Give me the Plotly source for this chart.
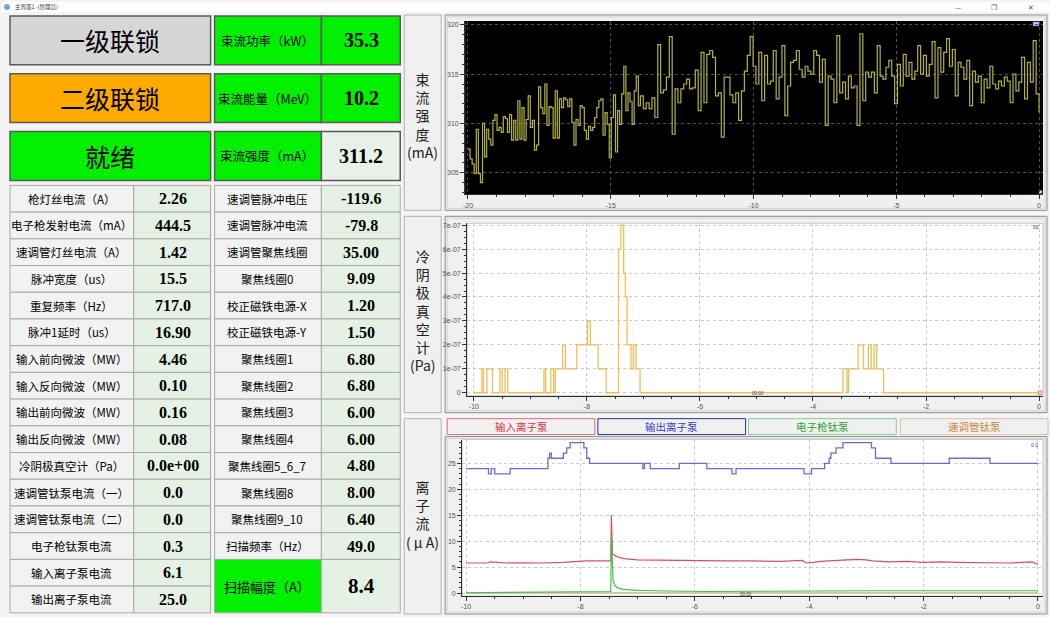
import numpy as np
import plotly.graph_objects as go

W, H = 1050, 617
CJK = "Noto Sans CJK SC"
SERIF = "Liberation Serif"

# ---------------- data ----------------
status_names = ["一级联锁", "二级联锁", "就绪"]
beam_names = ["束流功率（kW）", "束流能量（MeV）", "束流强度（mA）"]
beam_values = ["35.3", "10.2", "311.2"]

left_names = ["枪灯丝电流（A）", "电子枪发射电流（mA）", "速调管灯丝电流（A）", "脉冲宽度（us）",
              "重复频率（Hz）", "脉冲1延时（us）", "输入前向微波（MW）", "输入反向微波（MW）",
              "输出前向微波（MW）", "输出反向微波（MW）", "冷阴极真空计（Pa）", "速调管钛泵电流（一）",
              "速调管钛泵电流（二）", "电子枪钛泵电流", "输入离子泵电流", "输出离子泵电流"]
left_values = ["2.26", "444.5", "1.42", "15.5", "717.0", "16.90", "4.46", "0.10",
               "0.16", "0.08", "0.0e+00", "0.0", "0.0", "0.3", "6.1", "25.0"]
right_names = ["速调管脉冲电压", "速调管脉冲电流", "速调管聚焦线圈", "聚焦线圈0", "校正磁铁电源-X",
               "校正磁铁电源-Y", "聚焦线圈1", "聚焦线圈2", "聚焦线圈3", "聚焦线圈4", "聚焦线圈5_6_7",
               "聚焦线圈8", "聚焦线圈9_10", "扫描频率（Hz）", "扫描幅度（A）"]
right_values = ["-119.6", "-79.8", "35.00", "9.09", "1.20", "1.50", "6.80", "6.80",
                "6.00", "6.00", "4.80", "8.00", "6.40", "49.0", "8.4"]

panel_titles = ["束<br>流<br>强<br>度<br>(mA)", "冷<br>阴<br>极<br>真<br>空<br>计<br>(Pa)",
                "离<br>子<br>流<br>( μ A)"]
pump_names = ["输入离子泵", "输出离子泵", "电子枪钛泵", "速调管钛泵"]

# beam current (mA), last 20 s
beam_a = [307.4, 306.4, 305.9, 304.9, 309.4, 304.9, 304.0, 310.0, 306.6, 309.4, 308.4, 307.8,
          310.3, 310.9, 309.3, 309.6, 309.1, 310.7, 310.5, 309.1, 310.9, 308.3, 310.3, 308.3,
          312.3, 308.4, 311.6, 308.3, 310.4, 312.8, 309.6, 310.3, 307.3, 307.8, 313.7, 311.6,
          311.0, 314.0, 309.8, 311.7, 311.6, 308.5, 313.3, 308.5, 312.5, 311.6, 312.6, 312.4,
          311.7, 312.5, 310.1, 307.8, 310.4, 309.8, 311.8, 311.6, 309.3, 308.4, 309.7, 309.3,
          309.6, 310.6, 311.6, 312.3, 312.5, 308.8, 311.1, 309.9, 306.5, 310.6, 312.9, 307.1,
          311.3, 309.9, 313.0, 315.8, 311.3, 313.1, 312.2, 309.9, 313.3, 314.8, 311.8]
beam_b = [312.8, 311.5, 312.1, 311.5, 312.6, 310.6, 318.0, 313.1, 313.4, 314.7, 318.8, 308.9,
          313.5, 312.1, 313.5, 314.0, 314.5, 313.5, 313.6, 315.4, 311.3, 317.2, 312.1, 317.0,
          317.4, 316.7, 312.8, 313.1, 308.6, 314.7, 314.7, 312.9, 312.1, 313.1, 310.3, 313.3,
          315.3, 316.9, 318.8, 315.8, 314.0, 317.2, 312.3, 316.9, 314.0, 314.3, 317.4, 312.5,
          314.7, 317.9, 310.8, 313.8, 316.2, 316.4, 317.4, 315.5, 314.7, 315.8, 315.3, 315.0,
          317.4, 316.9, 314.2, 316.5, 309.8, 314.8, 314.5, 312.1, 318.9, 313.1, 314.2, 312.5,
          314.8, 313.6, 313.8, 309.8, 319.1, 312.3, 315.2, 314.7, 315.2, 313.1, 317.9, 314.8,
          314.5, 315.7, 316.4, 314.8, 312.0, 316.0, 313.8, 317.0, 314.8, 316.2, 314.5, 315.3,
          317.9, 315.0, 316.9, 314.8, 316.0, 318.3, 312.6, 317.7, 315.2, 317.2, 318.6, 315.8,
          317.5, 312.8, 316.2, 315.7, 314.5, 316.4, 311.8, 315.3, 314.2, 314.8, 312.1, 314.5,
          313.6, 315.8, 314.0, 313.5, 314.3, 313.8, 314.7, 314.3, 312.1, 315.0, 313.3, 314.2,
          316.7, 312.5, 316.2, 314.2, 318.4, 313.0, 311.1]
beam_t = np.concatenate([np.linspace(-20, -13.96, len(beam_a), endpoint=False),
                         np.linspace(-13.96, 0, len(beam_b))])
beam_v = beam_a + beam_b

# cold cathode vacuum gauge (Pa), change points, last 10 s
vac_t = [-10.0, -9.86, -9.83, -9.77, -9.67, -9.54, -9.50, -9.45, -9.40, -8.76, -8.73, -8.64,
         -8.59, -8.56, -8.43, -8.38, -8.18, -7.99, -7.94, -7.80, -7.66, -7.44, -7.40, -7.35,
         -7.32, -7.29, -7.22, -7.18, -7.13, -7.06, -3.47, -3.40, -3.37, -3.20, -3.11, -3.02,
         -2.97, -2.92, -2.87, -2.75, 0.0]
vac_e7 = [0, 1, 0, 1, 0, 1, 0, 1, 0, 1, 0, 1, 0, 1, 2, 1, 2, 3, 2, 1, 0, 6, 7, 5, 4, 2, 1,
          2, 1, 0, 1, 0, 1, 2, 1, 2, 1, 2, 1, 0, 0]

# ion pump currents (uA), last 10 s
out_t = [-10.0, -9.61, -9.56, -9.50, -9.23, -8.57, -8.54, -8.51, -8.30, -8.24, -8.18, -7.94,
         -7.89, -7.84, -6.91, -6.88, -6.78, -6.27, -5.79, -5.35, -5.28, -4.09, -3.96, -3.73,
         -3.65, -3.62, -3.53, -3.41, -2.91, -2.84, -2.57, -1.55, -0.84, 0.0]
out_v = [24, 23, 24, 23, 24, 26, 27, 26, 27, 28, 29, 28, 26, 25, 24, 25, 24, 25, 24, 23, 24,
         23, 24, 25, 26, 27, 28, 29, 28, 26, 25, 26, 25, 25]
in_t = [-10.0, -9.62, -9.57, -9.30, -9.0, -8.7, -8.3, -8.1, -7.9, -7.47, -7.46, -7.44, -7.38,
        -7.3, -7.2, -7.0, -6.5, -6.0, -5.5, -5.0, -4.5, -4.12, -4.05, -3.93, -3.8, -3.5,
        -3.15, -3.0, -2.9, -2.6, -2.3, -2.0, -1.7, -1.4, -1.0, -0.5, -0.1, 0.0]
in_v = [5.8, 5.8, 6.0, 5.8, 5.85, 5.8, 5.9, 6.1, 6.2, 6.2, 15.0, 7.6, 7.1, 6.8, 6.6, 6.4, 6.3,
        6.3, 6.2, 6.2, 6.1, 6.3, 5.8, 5.9, 6.1, 6.3, 6.5, 6.4, 6.2, 6.0, 6.1, 5.9, 6.0, 5.9,
        5.9, 5.8, 6.0, 5.5]
gun_t = [-10.0, -8.6, -7.9, -7.47, -7.46, -7.43, -7.40, -7.35, -7.25, -7.0, -6.5, -5.8, -2.9, 0.0]
gun_v = [0.05, 0.15, 0.3, 0.3, 11.0, 2.5, 1.5, 1.0, 0.7, 0.5, 0.4, 0.3, 0.45, 0.45]
kly_t = [-10.0, 0.0]
kly_v = [0.0, 0.0]

beam_xticks = [-20, -15, -10, -5, 0]
beam_yticks = [305, 310, 315, 320]
t10_ticks = [-10, -8, -6, -4, -2, 0]
vac_ticks = [0, 1e-7, 2e-7, 3e-7, 4e-7, 5e-7, 6e-7, 7e-7]
vac_ticktext = ["0", "1e-07", "2e-07", "3e-07", "4e-07", "5e-07", "6e-07", "7e-07"]
ion_ticks = [0, 5, 10, 15, 20, 25]

# ---------------- helpers ----------------
shapes, annotations = [], []


def prect(x0, y0, x1, y1, fill, line="#a8a8a8", lw=1):
    shapes.append(dict(type="rect", xref="paper", yref="paper",
                       x0=x0 / W, x1=x1 / W, y0=1 - y1 / H, y1=1 - y0 / H,
                       fillcolor=fill, line=dict(color=line, width=lw), layer="below"))


def ptext(x, y, s, size, color="#000000", family=CJK, weight="normal", xanchor="center"):
    annotations.append(dict(x=x / W, y=1 - y / H, xref="paper", yref="paper", text=s,
                            showarrow=False, xanchor=xanchor, yanchor="middle",
                            font=dict(size=size, color=color, family=family, weight=weight)))


def tl(v):
    return [str(x) for x in v]


def axis(domain, rng, tickvals, ticktext, minor_dtick, gridcolor, anchor):
    return dict(domain=domain, range=rng, anchor=anchor, tickmode="array",
                tickvals=tickvals, ticktext=ticktext, showline=True, linecolor="#303030",
                linewidth=1, ticks="outside", ticklen=4, tickcolor="#303030",
                tickfont=dict(size=7, color="#505050", family="Liberation Sans"),
                showgrid=True, gridcolor=gridcolor, griddash="dot", gridwidth=1,
                zeroline=False, fixedrange=True,
                minor=dict(tickmode="linear", tick0=0, dtick=minor_dtick, ticks="outside",
                           ticklen=2, tickcolor="#303030", showgrid=False))


# ---------------- window chrome ----------------
prect(0, 0, W, 10, "#ffffff", line="#ffffff", lw=0)
shapes.append(dict(type="circle", xref="paper", yref="paper", x0=2 / W, x1=8 / W,
                   y0=1 - 8 / H, y1=1 - 2 / H, fillcolor="#6fa8dc", line=dict(width=0)))
ptext(11, 5, "主界面1 -(管理员)", 5.5, color="#333333", xanchor="left")
ptext(958, 5, "—", 7, color="#555555")
ptext(994, 5, "❐", 7, color="#555555")
ptext(1031, 5, "✕", 7, color="#555555")

# ---------------- left status / beam boxes ----------------
status_fill = ["#d6d6d6", "#ffaa00", "#00f000"]
beam_fill = ["#00f000", "#00f000", "#e9f0e9"]
box_y = [(14, 63), (72, 121), (130, 179)]
for i, (y0, y1) in enumerate(box_y):
    prect(8, y0, 209, y1, status_fill[i], line="#5a5a5a", lw=1.5)
    prect(213, y0, 320, y1, "#00f000", line="#5a5a5a", lw=1.5)
    prect(320, y0, 399, y1, beam_fill[i], line="#5a5a5a", lw=1.5)
    ym = (y0 + y1) / 2
    ptext(108, ym, status_names[i], 25)
    ptext(266, ym, beam_names[i], 12.5)
    ptext(360, ym, beam_values[i], 20, family=SERIF, weight="bold")

# ---------------- parameter table ----------------
row0, rh = 184, 26.8
for i in range(len(left_names)):
    y0 = row0 + i * rh
    y1 = y0 + rh
    ym = (y0 + y1) / 2
    prect(8, y0, 132, y1, "#f2f2f2")
    prect(132, y0, 209, y1, "#e6f1e6")
    ptext(70, ym, left_names[i], 11.5)
    ptext(171, ym, left_values[i], 16, family=SERIF, weight="bold")

for i in range(len(right_names)):
    y0 = row0 + i * rh
    last = i == len(right_names) - 1
    y1 = y0 + rh * (2 if last else 1)
    ym = (y0 + y1) / 2
    prect(213, y0, 320, y1, "#00f000" if last else "#f2f2f2")
    prect(320, y0, 399, y1, "#e6f1e6")
    ptext(266, ym, right_names[i], 13 if last else 11.5)
    ptext(360, ym, right_values[i], 21 if last else 16, family=SERIF, weight="bold")

# ---------------- vertical title panels ----------------
panels = [(13, 209), (215, 412), (418, 614)]
title_y = [114, 310, 514]
for (y0, y1), ty, title in zip(panels, title_y, panel_titles):
    prect(403, y0, 440, y1, "#f0f0f0", line="#b0b0b0")
    ptext(421.5, ty, title, 14, color="#202020")

# ---------------- chart frames ----------------
for (y0, y1) in [(13, 209), (215, 412), (436, 614)]:
    prect(444, y0, 1047, y1, "#f0f0f0", line="#8c8c8c")
    prect(446, y0 + 2, 1045, y1 - 2, "#f0f0f0", line="#d4d4d4")
prect(464, 19, 1043, 193, "#000000", line="#000000", lw=0)
prect(466, 222, 1043, 395, "#ffffff", line="#c8c8c8")
prect(461, 439, 1043, 596, "#ffffff", line="#c8c8c8")

# pump legend buttons
pump_line = ["#e06a78", "#2e2e8a", "#8cc88c", "#d9c3a3"]
pump_text = ["#e0303c", "#3a3ad0", "#30a030", "#c8883c"]
btn_x = [(446, 594), (597, 745), (748, 896), (900, 1048)]
for (x0, x1), name, lc, tc in zip(btn_x, pump_names, pump_line, pump_text):
    prect(x0, 418, x1, 434, "#f0f0f0", line=lc)
    ptext((x0 + x1) / 2, 426, name, 10.5, color=tc)

# tiny chart widgets
prect(1033, 20, 1039, 24, "#c8c8ff", line="#6060c0", lw=0.5)
prect(1039, 189, 1042, 192, "#ffc0c0", line="#c06060", lw=0.5)
ptext(1036, 226, "00", 5, color="#3030a0", family="Liberation Sans")
prect(1038, 390, 1042, 394, "#ffc0c0", line="#c06060", lw=0.5)
ptext(757, 393, "00.00", 4.5, color="#404040", family="Liberation Sans")
ptext(1034, 444, "0 0", 5, color="#3030a0", family="Liberation Sans")
ptext(745, 594, "00.00", 4.5, color="#404040", family="Liberation Sans")

# ---------------- traces ----------------
fig = go.Figure()
fig.add_trace(go.Scatter(x=beam_t, y=beam_v, mode="lines", xaxis="x", yaxis="y",
                         line=dict(color="#b2b244", width=1.2, shape="hv"),
                         hoverinfo="skip", showlegend=False))
fig.add_trace(go.Scatter(x=vac_t, y=np.array(vac_e7) * 1e-7, mode="lines", xaxis="x2",
                         yaxis="y2", line=dict(color="#ecbe5c", width=1.3, shape="hv"),
                         hoverinfo="skip", showlegend=False))
fig.add_trace(go.Scatter(x=kly_t, y=kly_v, mode="lines", xaxis="x3", yaxis="y3",
                         line=dict(color="#d9c8a8", width=2), hoverinfo="skip", showlegend=False))
fig.add_trace(go.Scatter(x=out_t, y=out_v, mode="lines", xaxis="x3", yaxis="y3",
                         line=dict(color="#6c6cd0", width=1.3, shape="hv"),
                         hoverinfo="skip", showlegend=False))
fig.add_trace(go.Scatter(x=in_t, y=in_v, mode="lines", xaxis="x3", yaxis="y3",
                         line=dict(color="#d8505e", width=1.2),
                         hoverinfo="skip", showlegend=False))
fig.add_trace(go.Scatter(x=gun_t, y=gun_v, mode="lines", xaxis="x3", yaxis="y3",
                         line=dict(color="#48c048", width=1.2),
                         hoverinfo="skip", showlegend=False))

fig.update_layout(
    width=W, height=H, margin=dict(l=0, r=0, t=0, b=0),
    paper_bgcolor="#f4f4f4", plot_bgcolor="rgba(0,0,0,0)",
    showlegend=False, shapes=shapes, annotations=annotations,
    xaxis=axis([464 / W, 1043 / W], [-20.1, 0.14], beam_xticks, tl(beam_xticks), 1,
               "#505050", "y"),
    yaxis=axis([1 - 193 / H, 1 - 19 / H], [302.8, 320.4], beam_yticks, tl(beam_yticks), 1,
               "#505050", "x"),
    xaxis2=axis([466 / W, 1043 / W], [-10.12, 0.07], t10_ticks, tl(t10_ticks), 0.5,
                "#c8c8c8", "y2"),
    yaxis2=axis([1 - 395 / H, 1 - 222 / H], [-0.125e-7, 7.08e-7], vac_ticks, vac_ticktext,
                0.25e-7, "#c8c8c8", "x2"),
    xaxis3=axis([461 / W, 1043 / W], [-10.07, 0.09], t10_ticks, tl(t10_ticks), 0.5,
                "#c8c8c8", "y3"),
    yaxis3=axis([1 - 596 / H, 1 - 439 / H], [-0.58, 29.6], ion_ticks, tl(ion_ticks), 1,
                "#c8c8c8", "x3"),
)

fig.write_html("out.html", config={"displayModeBar": False},
               post_script="document.body.style.margin='0';"
                           "document.body.style.padding='0';"
                           "document.body.style.overflow='hidden';")
